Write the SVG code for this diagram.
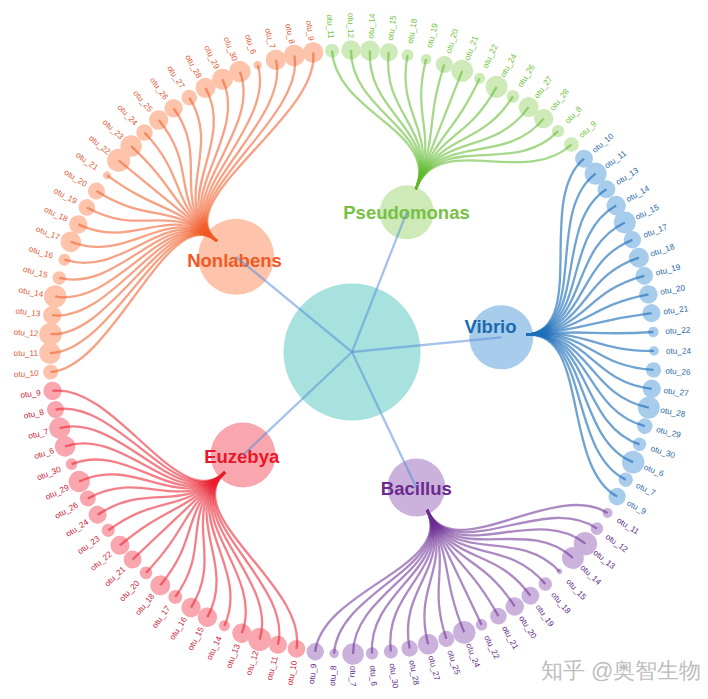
<svg xmlns="http://www.w3.org/2000/svg" width="708" height="699" viewBox="0 0 708 699">
<style>
text{font-family:"Liberation Sans",Arial,sans-serif}
.lf text{font-size:8.2px}
.L{text-anchor:end}
.pse circle{fill:#cdeab8}.pse text{fill:#6fbf3c}
.non circle{fill:#fdc4ab}.non text{fill:#e05a38}
.vib circle{fill:#a8cceb}.vib text{fill:#2b69a5}
.bac circle{fill:#cbb2dd}.bac text{fill:#5e2a86}
.euz circle{fill:#f9a6ae}.euz text{fill:#cc2236}
.gn text{font-size:18.5px;font-weight:bold;text-anchor:middle}
.lk path{fill:none;stroke-width:2.3;stroke-opacity:.56}
.lk.pse path{stroke:#5fba2c}.lk.non path{stroke:#f15a24}.lk.vib path{stroke:#1d6fb8;stroke-opacity:.64}.lk.bac path{stroke:#6b2d92}.lk.euz path{stroke:#ea1d2d}
.rl{stroke:#5b8fd8;stroke-opacity:.55;stroke-width:2.3;fill:none}
</style>
<rect width="708" height="699" fill="#fff"/>
<g id="nodes">
<g id="root"><circle cx="352" cy="352" r="68.5" fill="#a8e2de"/></g>
<g id="Pseudomonas" class="gn pse"><circle cx="406.73" cy="212.34" r="27"/><text x="406.5" y="218.5" style="fill:#78c043">Pseudomonas</text></g>
<g id="Vibrio" class="gn vib"><circle cx="501.28" cy="337.36" r="32"/><text x="490.5" y="333" style="fill:#1a6bb0">Vibrio</text></g>
<g id="Bacillus" class="gn bac"><circle cx="416.34" cy="487.5" r="29"/><text x="416.3" y="495" style="fill:#6a2a8e">Bacillus</text></g>
<g id="Euzebya" class="gn euz"><circle cx="243.01" cy="455.06" r="32.5"/><text x="241.7" y="463" style="fill:#e8172a">Euzebya</text></g>
<g id="Nonlabens" class="gn non"><circle cx="236.09" cy="256.79" r="38"/><text x="234.5" y="267" style="fill:#f15a24">Nonlabens</text></g>
<g id="leaves" transform="translate(352 352)">
<g id="pse-otu_11" class="lf pse" transform="rotate(-3.8)"><circle cy="-302" r="7"/><text class="L" transform="rotate(90)" x="-314" dy=".35em">otu_11</text></g>
<g id="pse-otu_12" class="lf pse" transform="rotate(-0.2)"><circle cy="-302" r="9.7"/><text class="L" transform="rotate(90)" x="-314" dy=".35em">otu_12</text></g>
<g id="pse-otu_14" class="lf pse" transform="rotate(3.4)"><circle cy="-302" r="10"/><text transform="rotate(-90)" x="314" dy=".35em">otu_14</text></g>
<g id="pse-otu_15" class="lf pse" transform="rotate(7)"><circle cy="-302" r="9"/><text transform="rotate(-90)" x="314" dy=".35em">otu_15</text></g>
<g id="pse-otu_18" class="lf pse" transform="rotate(10.6)"><circle cy="-302" r="6"/><text transform="rotate(-90)" x="314" dy=".35em">otu_18</text></g>
<g id="pse-otu_19" class="lf pse" transform="rotate(14.2)"><circle cy="-302" r="5.3"/><text transform="rotate(-90)" x="314" dy=".35em">otu_19</text></g>
<g id="pse-otu_20" class="lf pse" transform="rotate(17.8)"><circle cy="-302" r="8.5"/><text transform="rotate(-90)" x="314" dy=".35em">otu_20</text></g>
<g id="pse-otu_21" class="lf pse" transform="rotate(21.4)"><circle cy="-302" r="11"/><text transform="rotate(-90)" x="314" dy=".35em">otu_21</text></g>
<g id="pse-otu_22" class="lf pse" transform="rotate(25)"><circle cy="-302" r="5.5"/><text transform="rotate(-90)" x="314" dy=".35em">otu_22</text></g>
<g id="pse-otu_24" class="lf pse" transform="rotate(28.6)"><circle cy="-302" r="11"/><text transform="rotate(-90)" x="314" dy=".35em">otu_24</text></g>
<g id="pse-otu_26" class="lf pse" transform="rotate(32.2)"><circle cy="-302" r="6.3"/><text transform="rotate(-90)" x="314" dy=".35em">otu_26</text></g>
<g id="pse-otu_27" class="lf pse" transform="rotate(35.8)"><circle cy="-302" r="10"/><text transform="rotate(-90)" x="314" dy=".35em">otu_27</text></g>
<g id="pse-otu_28" class="lf pse" transform="rotate(39.4)"><circle cy="-302" r="9.7"/><text transform="rotate(-90)" x="314" dy=".35em">otu_28</text></g>
<g id="pse-otu_8" class="lf pse" transform="rotate(43)"><circle cy="-302" r="6.2"/><text transform="rotate(-90)" x="314" dy=".35em">otu_8</text></g>
<g id="pse-otu_9" class="lf pse" transform="rotate(46.6)"><circle cy="-302" r="7.3"/><text transform="rotate(-90)" x="314" dy=".35em">otu_9</text></g>
<g id="vib-otu_10" class="lf vib" transform="rotate(50.2)"><circle cy="-302" r="9"/><text transform="rotate(-90)" x="314" dy=".35em">otu_10</text></g>
<g id="vib-otu_11" class="lf vib" transform="rotate(53.8)"><circle cy="-302" r="11"/><text transform="rotate(-90)" x="314" dy=".35em">otu_11</text></g>
<g id="vib-otu_13" class="lf vib" transform="rotate(57.4)"><circle cy="-302" r="9"/><text transform="rotate(-90)" x="314" dy=".35em">otu_13</text></g>
<g id="vib-otu_14" class="lf vib" transform="rotate(61)"><circle cy="-302" r="9.7"/><text transform="rotate(-90)" x="314" dy=".35em">otu_14</text></g>
<g id="vib-otu_15" class="lf vib" transform="rotate(64.6)"><circle cy="-302" r="11"/><text transform="rotate(-90)" x="314" dy=".35em">otu_15</text></g>
<g id="vib-otu_17" class="lf vib" transform="rotate(68.2)"><circle cy="-302" r="8.7"/><text transform="rotate(-90)" x="314" dy=".35em">otu_17</text></g>
<g id="vib-otu_18" class="lf vib" transform="rotate(71.8)"><circle cy="-302" r="10"/><text transform="rotate(-90)" x="314" dy=".35em">otu_18</text></g>
<g id="vib-otu_19" class="lf vib" transform="rotate(75.4)"><circle cy="-302" r="8.8"/><text transform="rotate(-90)" x="314" dy=".35em">otu_19</text></g>
<g id="vib-otu_20" class="lf vib" transform="rotate(79)"><circle cy="-302" r="9.2"/><text transform="rotate(-90)" x="314" dy=".35em">otu_20</text></g>
<g id="vib-otu_21" class="lf vib" transform="rotate(82.6)"><circle cy="-302" r="9"/><text transform="rotate(-90)" x="314" dy=".35em">otu_21</text></g>
<g id="vib-otu_22" class="lf vib" transform="rotate(86.2)"><circle cy="-302" r="5.3"/><text transform="rotate(-90)" x="314" dy=".35em">otu_22</text></g>
<g id="vib-otu_24" class="lf vib" transform="rotate(89.8)"><circle cy="-302" r="4.8"/><text transform="rotate(-90)" x="314" dy=".35em">otu_24</text></g>
<g id="vib-otu_26" class="lf vib" transform="rotate(93.4)"><circle cy="-302" r="7.7"/><text transform="rotate(-90)" x="314" dy=".35em">otu_26</text></g>
<g id="vib-otu_27" class="lf vib" transform="rotate(97)"><circle cy="-302" r="9.2"/><text transform="rotate(-90)" x="314" dy=".35em">otu_27</text></g>
<g id="vib-otu_28" class="lf vib" transform="rotate(100.6)"><circle cy="-302" r="11"/><text transform="rotate(-90)" x="314" dy=".35em">otu_28</text></g>
<g id="vib-otu_29" class="lf vib" transform="rotate(104.2)"><circle cy="-302" r="7.8"/><text transform="rotate(-90)" x="314" dy=".35em">otu_29</text></g>
<g id="vib-otu_30" class="lf vib" transform="rotate(107.8)"><circle cy="-302" r="6.7"/><text transform="rotate(-90)" x="314" dy=".35em">otu_30</text></g>
<g id="vib-otu_6" class="lf vib" transform="rotate(111.4)"><circle cy="-302" r="11.3"/><text transform="rotate(-90)" x="314" dy=".35em">otu_6</text></g>
<g id="vib-otu_7" class="lf vib" transform="rotate(115)"><circle cy="-302" r="7.2"/><text transform="rotate(-90)" x="314" dy=".35em">otu_7</text></g>
<g id="vib-otu_9" class="lf vib" transform="rotate(118.6)"><circle cy="-302" r="8.7"/><text transform="rotate(-90)" x="314" dy=".35em">otu_9</text></g>
<g id="bac-otu_11" class="lf bac" transform="rotate(122.2)"><circle cy="-302" r="5"/><text transform="rotate(-90)" x="314" dy=".35em">otu_11</text></g>
<g id="bac-otu_12" class="lf bac" transform="rotate(125.8)"><circle cy="-302" r="6.3"/><text transform="rotate(-90)" x="314" dy=".35em">otu_12</text></g>
<g id="bac-otu_13" class="lf bac" transform="rotate(129.4)"><circle cy="-302" r="11.7"/><text transform="rotate(-90)" x="314" dy=".35em">otu_13</text></g>
<g id="bac-otu_14" class="lf bac" transform="rotate(133)"><circle cy="-302" r="11"/><text transform="rotate(-90)" x="314" dy=".35em">otu_14</text></g>
<g id="bac-otu_15" class="lf bac" transform="rotate(136.6)"><circle cy="-302" r="2.7"/><text transform="rotate(-90)" x="314" dy=".35em">otu_15</text></g>
<g id="bac-otu_18" class="lf bac" transform="rotate(140.2)"><circle cy="-302" r="6.7"/><text transform="rotate(-90)" x="314" dy=".35em">otu_18</text></g>
<g id="bac-otu_19" class="lf bac" transform="rotate(143.8)"><circle cy="-302" r="9"/><text transform="rotate(-90)" x="314" dy=".35em">otu_19</text></g>
<g id="bac-otu_20" class="lf bac" transform="rotate(147.4)"><circle cy="-302" r="9.2"/><text transform="rotate(-90)" x="314" dy=".35em">otu_20</text></g>
<g id="bac-otu_21" class="lf bac" transform="rotate(151)"><circle cy="-302" r="8.3"/><text transform="rotate(-90)" x="314" dy=".35em">otu_21</text></g>
<g id="bac-otu_22" class="lf bac" transform="rotate(154.6)"><circle cy="-302" r="5.8"/><text transform="rotate(-90)" x="314" dy=".35em">otu_22</text></g>
<g id="bac-otu_24" class="lf bac" transform="rotate(158.2)"><circle cy="-302" r="11.3"/><text transform="rotate(-90)" x="314" dy=".35em">otu_24</text></g>
<g id="bac-otu_25" class="lf bac" transform="rotate(161.8)"><circle cy="-302" r="8"/><text transform="rotate(-90)" x="314" dy=".35em">otu_25</text></g>
<g id="bac-otu_27" class="lf bac" transform="rotate(165.4)"><circle cy="-302" r="10.3"/><text transform="rotate(-90)" x="314" dy=".35em">otu_27</text></g>
<g id="bac-otu_28" class="lf bac" transform="rotate(169)"><circle cy="-302" r="8.2"/><text transform="rotate(-90)" x="314" dy=".35em">otu_28</text></g>
<g id="bac-otu_30" class="lf bac" transform="rotate(172.6)"><circle cy="-302" r="7"/><text transform="rotate(-90)" x="314" dy=".35em">otu_30</text></g>
<g id="bac-otu_6" class="lf bac" transform="rotate(176.2)"><circle cy="-302" r="6.2"/><text transform="rotate(-90)" x="314" dy=".35em">otu_6</text></g>
<g id="bac-otu_7" class="lf bac" transform="rotate(179.8)"><circle cy="-302" r="10.8"/><text transform="rotate(-90)" x="314" dy=".35em">otu_7</text></g>
<g id="bac-otu_8" class="lf bac" transform="rotate(183.4)"><circle cy="-302" r="4.7"/><text class="L" transform="rotate(90)" x="-314" dy=".35em">otu_8</text></g>
<g id="bac-otu_9" class="lf bac" transform="rotate(187)"><circle cy="-302" r="8.7"/><text class="L" transform="rotate(90)" x="-314" dy=".35em">otu_9</text></g>
<g id="euz-otu_10" class="lf euz" transform="rotate(190.6)"><circle cy="-302" r="8.8"/><text class="L" transform="rotate(90)" x="-314" dy=".35em">otu_10</text></g>
<g id="euz-otu_11" class="lf euz" transform="rotate(194.2)"><circle cy="-302" r="9"/><text class="L" transform="rotate(90)" x="-314" dy=".35em">otu_11</text></g>
<g id="euz-otu_12" class="lf euz" transform="rotate(197.8)"><circle cy="-302" r="11.5"/><text class="L" transform="rotate(90)" x="-314" dy=".35em">otu_12</text></g>
<g id="euz-otu_13" class="lf euz" transform="rotate(201.4)"><circle cy="-302" r="9.7"/><text class="L" transform="rotate(90)" x="-314" dy=".35em">otu_13</text></g>
<g id="euz-otu_14" class="lf euz" transform="rotate(205)"><circle cy="-302" r="5.5"/><text class="L" transform="rotate(90)" x="-314" dy=".35em">otu_14</text></g>
<g id="euz-otu_15" class="lf euz" transform="rotate(208.6)"><circle cy="-302" r="9.7"/><text class="L" transform="rotate(90)" x="-314" dy=".35em">otu_15</text></g>
<g id="euz-otu_16" class="lf euz" transform="rotate(212.2)"><circle cy="-302" r="9.7"/><text class="L" transform="rotate(90)" x="-314" dy=".35em">otu_16</text></g>
<g id="euz-otu_17" class="lf euz" transform="rotate(215.8)"><circle cy="-302" r="7"/><text class="L" transform="rotate(90)" x="-314" dy=".35em">otu_17</text></g>
<g id="euz-otu_18" class="lf euz" transform="rotate(219.4)"><circle cy="-302" r="10"/><text class="L" transform="rotate(90)" x="-314" dy=".35em">otu_18</text></g>
<g id="euz-otu_20" class="lf euz" transform="rotate(223)"><circle cy="-302" r="6.3"/><text class="L" transform="rotate(90)" x="-314" dy=".35em">otu_20</text></g>
<g id="euz-otu_21" class="lf euz" transform="rotate(226.6)"><circle cy="-302" r="9"/><text class="L" transform="rotate(90)" x="-314" dy=".35em">otu_21</text></g>
<g id="euz-otu_22" class="lf euz" transform="rotate(230.2)"><circle cy="-302" r="9.5"/><text class="L" transform="rotate(90)" x="-314" dy=".35em">otu_22</text></g>
<g id="euz-otu_23" class="lf euz" transform="rotate(233.8)"><circle cy="-302" r="6.5"/><text class="L" transform="rotate(90)" x="-314" dy=".35em">otu_23</text></g>
<g id="euz-otu_24" class="lf euz" transform="rotate(237.4)"><circle cy="-302" r="9"/><text class="L" transform="rotate(90)" x="-314" dy=".35em">otu_24</text></g>
<g id="euz-otu_26" class="lf euz" transform="rotate(241)"><circle cy="-302" r="8"/><text class="L" transform="rotate(90)" x="-314" dy=".35em">otu_26</text></g>
<g id="euz-otu_29" class="lf euz" transform="rotate(244.6)"><circle cy="-302" r="10.7"/><text class="L" transform="rotate(90)" x="-314" dy=".35em">otu_29</text></g>
<g id="euz-otu_30" class="lf euz" transform="rotate(248.2)"><circle cy="-302" r="5.8"/><text class="L" transform="rotate(90)" x="-314" dy=".35em">otu_30</text></g>
<g id="euz-otu_6" class="lf euz" transform="rotate(251.8)"><circle cy="-302" r="10.3"/><text class="L" transform="rotate(90)" x="-314" dy=".35em">otu_6</text></g>
<g id="euz-otu_7" class="lf euz" transform="rotate(255.4)"><circle cy="-302" r="10.7"/><text class="L" transform="rotate(90)" x="-314" dy=".35em">otu_7</text></g>
<g id="euz-otu_8" class="lf euz" transform="rotate(259)"><circle cy="-302" r="8.5"/><text class="L" transform="rotate(90)" x="-314" dy=".35em">otu_8</text></g>
<g id="euz-otu_9" class="lf euz" transform="rotate(262.6)"><circle cy="-302" r="9.2"/><text class="L" transform="rotate(90)" x="-314" dy=".35em">otu_9</text></g>
<g id="non-otu_10" class="lf non" transform="rotate(266.2)"><circle cy="-302" r="7.5"/><text class="L" transform="rotate(90)" x="-314" dy=".35em">otu_10</text></g>
<g id="non-otu_11" class="lf non" transform="rotate(269.8)"><circle cy="-302" r="10.8"/><text class="L" transform="rotate(90)" x="-314" dy=".35em">otu_11</text></g>
<g id="non-otu_12" class="lf non" transform="rotate(273.4)"><circle cy="-302" r="11.3"/><text class="L" transform="rotate(90)" x="-314" dy=".35em">otu_12</text></g>
<g id="non-otu_13" class="lf non" transform="rotate(277)"><circle cy="-302" r="9.2"/><text class="L" transform="rotate(90)" x="-314" dy=".35em">otu_13</text></g>
<g id="non-otu_14" class="lf non" transform="rotate(280.6)"><circle cy="-302" r="11.2"/><text class="L" transform="rotate(90)" x="-314" dy=".35em">otu_14</text></g>
<g id="non-otu_15" class="lf non" transform="rotate(284.2)"><circle cy="-302" r="6.7"/><text class="L" transform="rotate(90)" x="-314" dy=".35em">otu_15</text></g>
<g id="non-otu_16" class="lf non" transform="rotate(287.8)"><circle cy="-302" r="6"/><text class="L" transform="rotate(90)" x="-314" dy=".35em">otu_16</text></g>
<g id="non-otu_17" class="lf non" transform="rotate(291.4)"><circle cy="-302" r="10.3"/><text class="L" transform="rotate(90)" x="-314" dy=".35em">otu_17</text></g>
<g id="non-otu_18" class="lf non" transform="rotate(295)"><circle cy="-302" r="9.2"/><text class="L" transform="rotate(90)" x="-314" dy=".35em">otu_18</text></g>
<g id="non-otu_19" class="lf non" transform="rotate(298.6)"><circle cy="-302" r="8.3"/><text class="L" transform="rotate(90)" x="-314" dy=".35em">otu_19</text></g>
<g id="non-otu_20" class="lf non" transform="rotate(302.2)"><circle cy="-302" r="8.5"/><text class="L" transform="rotate(90)" x="-314" dy=".35em">otu_20</text></g>
<g id="non-otu_21" class="lf non" transform="rotate(305.8)"><circle cy="-302" r="3.9"/><text class="L" transform="rotate(90)" x="-314" dy=".35em">otu_21</text></g>
<g id="non-otu_22" class="lf non" transform="rotate(309.4)"><circle cy="-302" r="11.5"/><text class="L" transform="rotate(90)" x="-314" dy=".35em">otu_22</text></g>
<g id="non-otu_23" class="lf non" transform="rotate(313)"><circle cy="-302" r="10.8"/><text class="L" transform="rotate(90)" x="-314" dy=".35em">otu_23</text></g>
<g id="non-otu_24" class="lf non" transform="rotate(316.6)"><circle cy="-302" r="8.3"/><text class="L" transform="rotate(90)" x="-314" dy=".35em">otu_24</text></g>
<g id="non-otu_25" class="lf non" transform="rotate(320.2)"><circle cy="-302" r="9.7"/><text class="L" transform="rotate(90)" x="-314" dy=".35em">otu_25</text></g>
<g id="non-otu_26" class="lf non" transform="rotate(323.8)"><circle cy="-302" r="9.2"/><text class="L" transform="rotate(90)" x="-314" dy=".35em">otu_26</text></g>
<g id="non-otu_27" class="lf non" transform="rotate(327.4)"><circle cy="-302" r="7.8"/><text class="L" transform="rotate(90)" x="-314" dy=".35em">otu_27</text></g>
<g id="non-otu_28" class="lf non" transform="rotate(331)"><circle cy="-302" r="10"/><text class="L" transform="rotate(90)" x="-314" dy=".35em">otu_28</text></g>
<g id="non-otu_29" class="lf non" transform="rotate(334.6)"><circle cy="-302" r="10.5"/><text class="L" transform="rotate(90)" x="-314" dy=".35em">otu_29</text></g>
<g id="non-otu_30" class="lf non" transform="rotate(338.2)"><circle cy="-302" r="10.8"/><text class="L" transform="rotate(90)" x="-314" dy=".35em">otu_30</text></g>
<g id="non-otu_6" class="lf non" transform="rotate(341.8)"><circle cy="-302" r="4.2"/><text class="L" transform="rotate(90)" x="-314" dy=".35em">otu_6</text></g>
<g id="non-otu_7" class="lf non" transform="rotate(345.4)"><circle cy="-302" r="10.2"/><text class="L" transform="rotate(90)" x="-314" dy=".35em">otu_7</text></g>
<g id="non-otu_8" class="lf non" transform="rotate(349)"><circle cy="-302" r="10.7"/><text class="L" transform="rotate(90)" x="-314" dy=".35em">otu_8</text></g>
<g id="non-otu_9" class="lf non" transform="rotate(352.6)"><circle cy="-302" r="10.3"/><text class="L" transform="rotate(90)" x="-314" dy=".35em">otu_9</text></g>
</g>
</g>
<g id="links">
<g id="root-links" transform="translate(352 352)">
<path class="rl" d="M0,0L54.73,-139.66"/>
<path class="rl" d="M0,0L149.28,-14.64"/>
<path class="rl" d="M0,0L64.34,135.5"/>
<path class="rl" d="M0,0L-108.99,103.06"/>
<path class="rl" d="M0,0L-115.91,-95.21"/>
</g>
<g class="lk pse" transform="translate(352 352) rotate(21.4)">
<path d="M0,-175C0,-238.5 -101.55,-215.8 -128.59,-273.26"/>
<path d="M0,-175C0,-238.5 -87.8,-221.75 -111.17,-280.79"/>
<path d="M0,-175C0,-238.5 -73.7,-226.83 -93.32,-287.22"/>
<path d="M0,-175C0,-238.5 -59.31,-231.01 -75.1,-292.51"/>
<path d="M0,-175C0,-238.5 -44.69,-234.28 -56.59,-296.65"/>
<path d="M0,-175C0,-238.5 -29.89,-236.62 -37.85,-299.62"/>
<path d="M0,-175C0,-238.5 -14.98,-238.03 -18.96,-301.4"/>
<path d="M0,-175C0,-238.5 0,-238.5 0,-302"/>
<path d="M0,-175C0,-238.5 14.98,-238.03 18.96,-301.4"/>
<path d="M0,-175C0,-238.5 29.89,-236.62 37.85,-299.62"/>
<path d="M0,-175C0,-238.5 44.69,-234.28 56.59,-296.65"/>
<path d="M0,-175C0,-238.5 59.31,-231.01 75.1,-292.51"/>
<path d="M0,-175C0,-238.5 73.7,-226.83 93.32,-287.22"/>
<path d="M0,-175C0,-238.5 87.8,-221.75 111.17,-280.79"/>
<path d="M0,-175C0,-238.5 101.55,-215.8 128.59,-273.26"/>
</g>
<g class="lk vib" transform="translate(352 352) rotate(84.4)">
<path d="M0,-175C0,-238.5 -134.06,-197.26 -169.75,-249.78"/>
<path d="M0,-175C0,-238.5 -121.41,-205.29 -153.73,-259.94"/>
<path d="M0,-175C0,-238.5 -108.28,-212.5 -137.1,-269.08"/>
<path d="M0,-175C0,-238.5 -94.72,-218.88 -119.94,-277.16"/>
<path d="M0,-175C0,-238.5 -80.79,-224.4 -102.3,-284.15"/>
<path d="M0,-175C0,-238.5 -66.54,-229.03 -84.26,-290.01"/>
<path d="M0,-175C0,-238.5 -52.03,-232.76 -65.88,-294.73"/>
<path d="M0,-175C0,-238.5 -37.31,-235.56 -47.24,-298.28"/>
<path d="M0,-175C0,-238.5 -22.44,-237.44 -28.42,-300.66"/>
<path d="M0,-175C0,-238.5 -7.49,-238.38 -9.49,-301.85"/>
<path d="M0,-175C0,-238.5 7.49,-238.38 9.49,-301.85"/>
<path d="M0,-175C0,-238.5 22.44,-237.44 28.42,-300.66"/>
<path d="M0,-175C0,-238.5 37.31,-235.56 47.24,-298.28"/>
<path d="M0,-175C0,-238.5 52.03,-232.76 65.88,-294.73"/>
<path d="M0,-175C0,-238.5 66.54,-229.03 84.26,-290.01"/>
<path d="M0,-175C0,-238.5 80.79,-224.4 102.3,-284.15"/>
<path d="M0,-175C0,-238.5 94.72,-218.88 119.94,-277.16"/>
<path d="M0,-175C0,-238.5 108.28,-212.5 137.1,-269.08"/>
<path d="M0,-175C0,-238.5 121.41,-205.29 153.73,-259.94"/>
<path d="M0,-175C0,-238.5 134.06,-197.26 169.75,-249.78"/>
</g>
<g class="lk bac" transform="translate(352 352) rotate(154.6)">
<path d="M0,-175C0,-238.5 -127.8,-201.37 -161.82,-254.99"/>
<path d="M0,-175C0,-238.5 -114.9,-209 -145.49,-264.64"/>
<path d="M0,-175C0,-238.5 -101.55,-215.8 -128.59,-273.26"/>
<path d="M0,-175C0,-238.5 -87.8,-221.75 -111.17,-280.79"/>
<path d="M0,-175C0,-238.5 -73.7,-226.83 -93.32,-287.22"/>
<path d="M0,-175C0,-238.5 -59.31,-231.01 -75.1,-292.51"/>
<path d="M0,-175C0,-238.5 -44.69,-234.28 -56.59,-296.65"/>
<path d="M0,-175C0,-238.5 -29.89,-236.62 -37.85,-299.62"/>
<path d="M0,-175C0,-238.5 -14.98,-238.03 -18.96,-301.4"/>
<path d="M0,-175C0,-238.5 0,-238.5 0,-302"/>
<path d="M0,-175C0,-238.5 14.98,-238.03 18.96,-301.4"/>
<path d="M0,-175C0,-238.5 29.89,-236.62 37.85,-299.62"/>
<path d="M0,-175C0,-238.5 44.69,-234.28 56.59,-296.65"/>
<path d="M0,-175C0,-238.5 59.31,-231.01 75.1,-292.51"/>
<path d="M0,-175C0,-238.5 73.7,-226.83 93.32,-287.22"/>
<path d="M0,-175C0,-238.5 87.8,-221.75 111.17,-280.79"/>
<path d="M0,-175C0,-238.5 101.55,-215.8 128.59,-273.26"/>
<path d="M0,-175C0,-238.5 114.9,-209 145.49,-264.64"/>
<path d="M0,-175C0,-238.5 127.8,-201.37 161.82,-254.99"/>
</g>
<g class="lk euz" transform="translate(352 352) rotate(226.6)">
<path d="M0,-175C0,-238.5 -140.19,-192.95 -177.51,-244.32"/>
<path d="M0,-175C0,-238.5 -127.8,-201.37 -161.82,-254.99"/>
<path d="M0,-175C0,-238.5 -114.9,-209 -145.49,-264.64"/>
<path d="M0,-175C0,-238.5 -101.55,-215.8 -128.59,-273.26"/>
<path d="M0,-175C0,-238.5 -87.8,-221.75 -111.17,-280.79"/>
<path d="M0,-175C0,-238.5 -73.7,-226.83 -93.32,-287.22"/>
<path d="M0,-175C0,-238.5 -59.31,-231.01 -75.1,-292.51"/>
<path d="M0,-175C0,-238.5 -44.69,-234.28 -56.59,-296.65"/>
<path d="M0,-175C0,-238.5 -29.89,-236.62 -37.85,-299.62"/>
<path d="M0,-175C0,-238.5 -14.98,-238.03 -18.96,-301.4"/>
<path d="M0,-175C0,-238.5 0,-238.5 0,-302"/>
<path d="M0,-175C0,-238.5 14.98,-238.03 18.96,-301.4"/>
<path d="M0,-175C0,-238.5 29.89,-236.62 37.85,-299.62"/>
<path d="M0,-175C0,-238.5 44.69,-234.28 56.59,-296.65"/>
<path d="M0,-175C0,-238.5 59.31,-231.01 75.1,-292.51"/>
<path d="M0,-175C0,-238.5 73.7,-226.83 93.32,-287.22"/>
<path d="M0,-175C0,-238.5 87.8,-221.75 111.17,-280.79"/>
<path d="M0,-175C0,-238.5 101.55,-215.8 128.59,-273.26"/>
<path d="M0,-175C0,-238.5 114.9,-209 145.49,-264.64"/>
<path d="M0,-175C0,-238.5 127.8,-201.37 161.82,-254.99"/>
<path d="M0,-175C0,-238.5 140.19,-192.95 177.51,-244.32"/>
</g>
<g class="lk non" transform="translate(352 352) rotate(309.4)">
<path d="M0,-175C0,-238.5 -163.26,-173.86 -206.73,-220.15"/>
<path d="M0,-175C0,-238.5 -152.03,-183.77 -192.5,-232.69"/>
<path d="M0,-175C0,-238.5 -140.19,-192.95 -177.51,-244.32"/>
<path d="M0,-175C0,-238.5 -127.8,-201.37 -161.82,-254.99"/>
<path d="M0,-175C0,-238.5 -114.9,-209 -145.49,-264.64"/>
<path d="M0,-175C0,-238.5 -101.55,-215.8 -128.59,-273.26"/>
<path d="M0,-175C0,-238.5 -87.8,-221.75 -111.17,-280.79"/>
<path d="M0,-175C0,-238.5 -73.7,-226.83 -93.32,-287.22"/>
<path d="M0,-175C0,-238.5 -59.31,-231.01 -75.1,-292.51"/>
<path d="M0,-175C0,-238.5 -44.69,-234.28 -56.59,-296.65"/>
<path d="M0,-175C0,-238.5 -29.89,-236.62 -37.85,-299.62"/>
<path d="M0,-175C0,-238.5 -14.98,-238.03 -18.96,-301.4"/>
<path d="M0,-175C0,-238.5 0,-238.5 0,-302"/>
<path d="M0,-175C0,-238.5 14.98,-238.03 18.96,-301.4"/>
<path d="M0,-175C0,-238.5 29.89,-236.62 37.85,-299.62"/>
<path d="M0,-175C0,-238.5 44.69,-234.28 56.59,-296.65"/>
<path d="M0,-175C0,-238.5 59.31,-231.01 75.1,-292.51"/>
<path d="M0,-175C0,-238.5 73.7,-226.83 93.32,-287.22"/>
<path d="M0,-175C0,-238.5 87.8,-221.75 111.17,-280.79"/>
<path d="M0,-175C0,-238.5 101.55,-215.8 128.59,-273.26"/>
<path d="M0,-175C0,-238.5 114.9,-209 145.49,-264.64"/>
<path d="M0,-175C0,-238.5 127.8,-201.37 161.82,-254.99"/>
<path d="M0,-175C0,-238.5 140.19,-192.95 177.51,-244.32"/>
<path d="M0,-175C0,-238.5 152.03,-183.77 192.5,-232.69"/>
<path d="M0,-175C0,-238.5 163.26,-173.86 206.73,-220.15"/>
</g>
</g>
<text x="541" y="678" font-family="'Noto Sans CJK SC',sans-serif" font-size="22" fill="#bdbdbd">知乎 @奥智生物</text>
</svg>
